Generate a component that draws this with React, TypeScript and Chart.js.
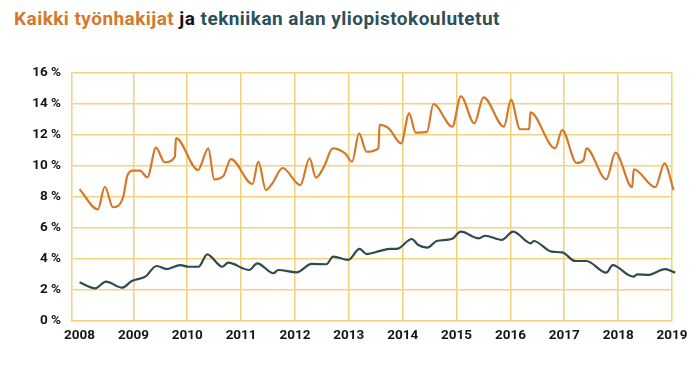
import React, { useEffect, useRef } from "react";
import { Chart, registerables } from "chart.js";

Chart.register(...registerables);

const titleParts = ["Kaikki työnhakijat", " ja ", "tekniikan alan yliopistokoulutetut"];

const yearTicks = [2008, 2009, 2010, 2011, 2012, 2013, 2014, 2015, 2016, 2017, 2018, 2019];

const allYears = [
  2008.0, 2008.34, 2008.47, 2008.62, 2008.81, 2008.89, 2009.0, 2009.12, 2009.26, 2009.42,
  2009.58, 2009.77, 2009.79, 2010.2, 2010.39, 2010.5, 2010.67, 2010.81, 2011.21, 2011.32,
  2011.46, 2011.58, 2011.77, 2012.1, 2012.27, 2012.39, 2012.54, 2012.7, 2012.93, 2013.06,
  2013.19, 2013.33, 2013.55, 2013.57, 2013.74, 2013.97, 2014.12, 2014.24, 2014.45, 2014.57,
  2014.92, 2015.08, 2015.33, 2015.5, 2015.88, 2016.01, 2016.18, 2016.35, 2016.37, 2016.83,
  2016.96, 2017.23, 2017.36, 2017.41, 2017.78, 2017.95, 2018.26, 2018.29, 2018.69, 2018.86,
  2019.03,
];
const allValues = [
  8.5, 7.2, 8.66, 7.34, 8.0, 9.4, 9.7, 9.7, 9.27, 11.18,
  10.24, 10.6, 11.8, 9.74, 11.14, 9.14, 9.35, 10.45, 8.84, 10.28,
  8.45, 8.88, 9.87, 8.77, 10.5, 9.25, 9.96, 11.14, 10.82, 10.28,
  12.1, 10.92, 11.14, 12.65, 12.43, 11.46, 13.4, 12.15, 12.2, 14.0,
  12.54, 14.5, 12.75, 14.43, 12.54, 14.26, 12.37, 12.37, 13.46, 11.14,
  12.32, 10.2, 10.39, 11.14, 9.14, 10.86, 8.63, 9.79, 8.63, 10.17,
  8.45,
];

const techYears = [
  2008.0, 2008.29, 2008.49, 2008.79, 2008.97, 2009.22, 2009.43, 2009.62, 2009.87, 2010.02,
  2010.21, 2010.37, 2010.65, 2010.76, 2011.15, 2011.3, 2011.6, 2011.69, 2012.03, 2012.31,
  2012.58, 2012.71, 2012.99, 2013.2, 2013.33, 2013.58, 2013.77, 2013.89, 2014.17, 2014.29,
  2014.46, 2014.63, 2014.91, 2015.08, 2015.41, 2015.53, 2015.84, 2016.05, 2016.38, 2016.43,
  2016.77, 2016.96, 2017.2, 2017.41, 2017.78, 2017.9, 2018.19, 2018.29, 2018.35, 2018.56,
  2018.87, 2019.06,
];
const techValues = [
  2.5, 2.11, 2.54, 2.15, 2.58, 2.86, 3.55, 3.35, 3.61, 3.5,
  3.5, 4.3, 3.5, 3.76, 3.29, 3.72, 3.08, 3.29, 3.14, 3.68,
  3.66, 4.15, 3.94, 4.65, 4.32, 4.52, 4.65, 4.65, 5.29, 4.9,
  4.73, 5.16, 5.29, 5.76, 5.33, 5.5, 5.23, 5.76, 5.01, 5.16,
  4.47, 4.43, 3.87, 3.87, 3.12, 3.61, 2.97, 2.86, 3.01, 2.97,
  3.35, 3.12,
];

const ORANGE = "#d4792b";
const TEAL = "#2f4a50";
const GRID = "#f4d37c";
const FONT = "Roboto, 'Liberation Sans', sans-serif";

export default function App() {
  const ref = useRef<HTMLCanvasElement | null>(null);

  useEffect(() => {
    if (!ref.current) return;
    const chart = new Chart(ref.current, {
      type: "line",
      data: {
        datasets: [
          {
            label: "Kaikki työnhakijat",
            data: allYears.map((x, i) => ({ x, y: allValues[i] })),
            borderColor: ORANGE,
            borderWidth: 2.2,
            pointRadius: 0,
            cubicInterpolationMode: "monotone",
            clip: false,
          },
          {
            label: "Tekniikan alan yliopistokoulutetut",
            data: techYears.map((x, i) => ({ x, y: techValues[i] })),
            borderColor: TEAL,
            borderWidth: 2.2,
            pointRadius: 0,
            cubicInterpolationMode: "monotone",
            clip: false,
          },
        ],
      },
      options: {
        animation: false,
        responsive: false,
        maintainAspectRatio: false,
        layout: { padding: { top: 73, right: 28, left: 0, bottom: 0 } },
        plugins: { legend: { display: false }, tooltip: { enabled: false }, title: { display: false } },
        scales: {
          x: {
            type: "linear",
            min: 2007.86,
            max: 2019.0,
            afterBuildTicks: (scale: any) => {
              scale.ticks = yearTicks.map((v) => ({ value: v }));
            },
            afterFit: (scale: any) => {
              scale.height = 44;
            },
            grid: {
              color: (ctx: any) => (ctx.tick && ctx.tick.value === 2008 ? "rgba(0,0,0,0)" : GRID),
              lineWidth: 1.6,
              drawTicks: false,
            },
            border: { display: true, color: GRID, width: 1.6 },
            ticks: {
              autoSkip: false,
              maxRotation: 0,
              padding: 7,
              color: "#161616",
              font: { family: FONT, size: 13.5, weight: "bold" },
              callback: (v: any) => String(v),
            },
          },
          y: {
            min: 0,
            max: 16,
            afterFit: (scale: any) => {
              scale.width = 72;
            },
            grid: { color: GRID, lineWidth: 1.6, drawTicks: false },
            border: { display: true, color: GRID, width: 1.6 },
            ticks: {
              stepSize: 2,
              padding: 11,
              color: "#161616",
              font: { family: FONT, size: 13.5, weight: "bold" },
              callback: (v: any) => `${v} %`,
            },
          },
        },
      },
    });
    return () => chart.destroy();
  }, []);

  return (
    <div style={{ position: "absolute", left: 0, top: 0, width: 700, height: 365, background: "#fff" }}>
      <div
        style={{
          position: "absolute",
          left: 14,
          top: 7,
          fontFamily: FONT,
          fontWeight: 700,
          fontSize: 19,
          lineHeight: "24px",
          whiteSpace: "nowrap",
          letterSpacing: 0.45,
        }}
      >
        <span style={{ color: ORANGE }}>{titleParts[0]}</span>
        <span style={{ color: "#111" }}>{titleParts[1]}</span>
        <span style={{ color: "#2d5059" }}>{titleParts[2]}</span>
      </div>
      <canvas ref={ref} width={700} height={365} style={{ position: "absolute", left: 0, top: 0 }} />
    </div>
  );
}
